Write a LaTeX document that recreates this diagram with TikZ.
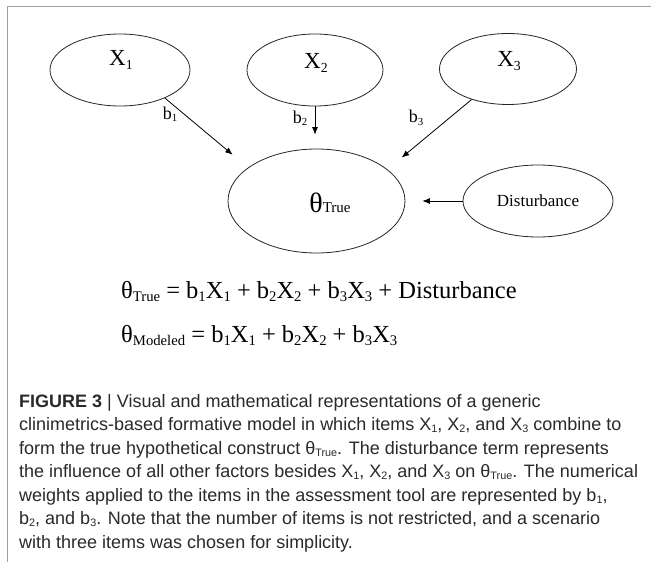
\documentclass[tikz,border=0pt]{standalone}
\usepackage{graphicx}
\usepackage{fontspec}
\setmainfont{Liberation Serif}
\newfontfamily\capfont{Liberation Sans}
\usetikzlibrary{shapes.geometric,arrows.meta}
\newcommand{\lsub}[1]{\raisebox{-0.3ex}{\scalebox{0.6}{#1}}}
\newcommand{\csub}[1]{\raisebox{-0.25ex}{\scalebox{0.6}{#1}}}
\definecolor{framegray}{HTML}{A0A0A0}
\definecolor{capcol}{HTML}{2A2A2A}
\tikzset{
  ell/.style={ellipse, draw=black!85, line width=0.8pt, inner sep=0pt},
  arr/.style={-{Latex[length=7.5pt,width=6pt]}, line width=0.8pt, black},
  xlab/.style={inner sep=0pt, font=\fontsize{23}{25}\selectfont},
  blab/.style={font=\fontsize{18}{20}\selectfont, inner sep=0pt},
  eqline/.style={anchor=base west, inner sep=0pt, font=\fontsize{24.5}{26}\selectfont},
  capline/.style={anchor=base west, inner sep=0pt, text=capcol, font=\capfont\fontsize{18}{22}\selectfont}
}
\begin{document}
\begin{tikzpicture}[x=1pt,y=-1pt]
\useasboundingbox (0,0) rectangle (651,562);
\fill[white] (0,0) rectangle (651,562);
\draw[framegray, line width=1.4pt] (7.5,562) -- (7.5,6.5) -- (651,6.5);

% ellipses
\node[ell, minimum width=140pt, minimum height=72pt] (x1) at (120,70) {};
\node[ell, minimum width=136pt, minimum height=72pt] (x2) at (315,70) {};
\node[ell, minimum width=137pt, minimum height=71pt] (x3) at (508,69) {};
\node[ell, minimum width=177pt, minimum height=104pt] (theta) at (316.5,201) {};
\node[ell, minimum width=150pt, minimum height=72pt, font=\fontsize{17}{19}\selectfont] (dist) at (538,201) {Disturbance};

% texts inside ellipses
\node[xlab] (x1txt) at (121,60) {X\lsub{1}};
\node[xlab] (x2txt) at (316,63) {X\lsub{2}};
\node[xlab] (x3txt) at (509,61) {X\lsub{3}};
\node[inner sep=0pt] (thetatxt) at (330,203) {{\fontsize{28}{30}\selectfont θ}{\fontsize{15}{16}\selectfont True}};

% connectors
\draw[arr, shorten >=20pt] (x1.-32) -- (theta.154);
\draw[arr, shorten >=14pt] (x2) -- (x2 |- theta.north);
\draw[arr, shorten >=18.5pt] (x3.220) -- (theta.24);
\draw[arr, shorten >=17pt] (dist) -- (theta);

% weight labels
\node[blab] (b1) at (170,114) {b\lsub{1}};
\node[blab] (b2) at (300,118) {b\lsub{2}};
\node[blab] (b3) at (416,118) {b\lsub{3}};

% equations
\node[eqline] (eq1) at (121,298) {θ\lsub{True} = b\lsub{1}X\lsub{1} + b\lsub{2}X\lsub{2} + b\lsub{3}X\lsub{3} + Disturbance};
\node[eqline] (eq2) at (121,342) {θ\lsub{Modeled} = b\lsub{1}X\lsub{1} + b\lsub{2}X\lsub{2} + b\lsub{3}X\lsub{3}};

% caption
\node[capline] (c1) at (19,407) {\textbf{FIGURE 3} | Visual and mathematical representations of a generic};
\node[capline] (c2) at (19,430.5) {clinimetrics-based formative model in which items X\csub{1}, X\csub{2}, and X\csub{3} combine to};
\node[capline] (c3) at (19,454) {form the true hypothetical construct θ\csub{True}. The disturbance term represents};
\node[capline] (c4) at (19,477.5) {the influence of all other factors besides X\csub{1}, X\csub{2}, and X\csub{3} on θ\csub{True}. The numerical};
\node[capline] (c5) at (19,501) {weights applied to the items in the assessment tool are represented by b\csub{1},};
\node[capline] (c6) at (19,524.5) {b\csub{2}, and b\csub{3}. Note that the number of items is not restricted, and a scenario};
\node[capline] (c7) at (19,548) {with three items was chosen for simplicity.};
\end{tikzpicture}
\end{document}
